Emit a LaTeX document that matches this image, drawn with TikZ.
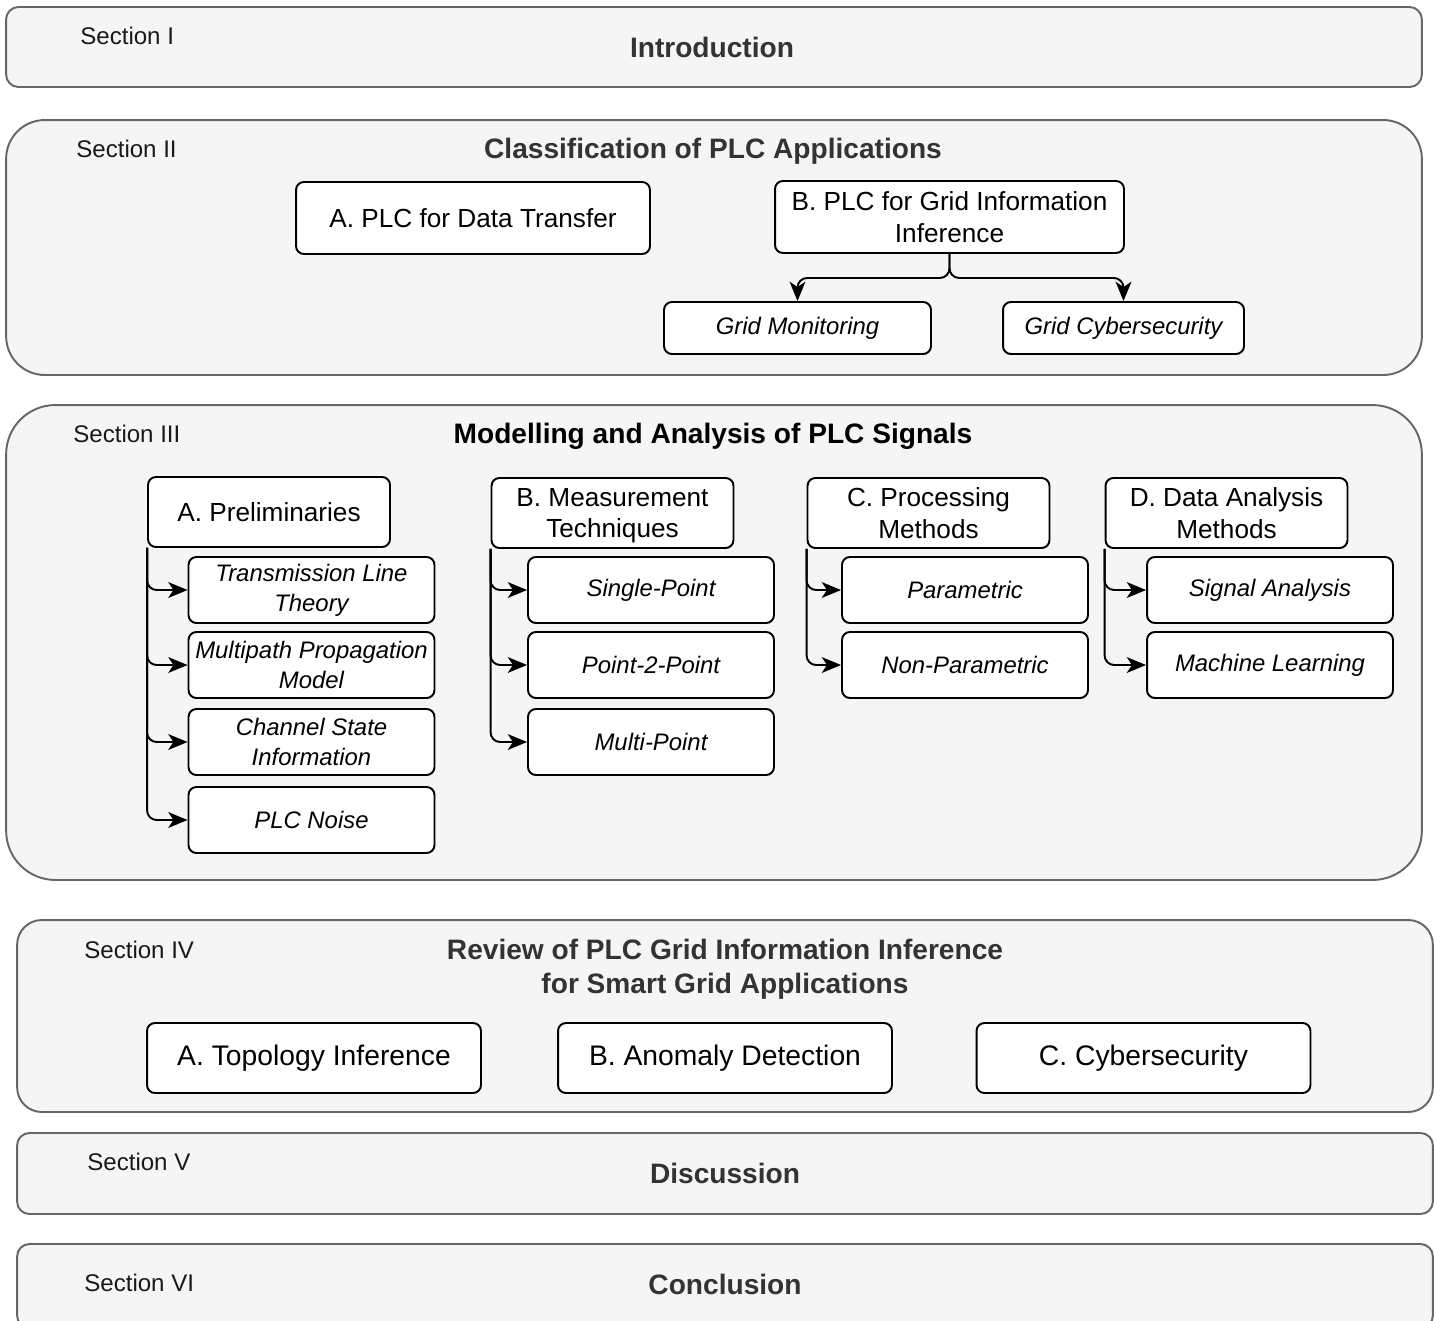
\documentclass[tikz,border=0pt]{standalone}
\usepackage{fontspec}
\setmainfont{Liberation Sans}
\usetikzlibrary{arrows.meta}

\definecolor{secfill}{HTML}{F5F5F5}
\definecolor{secline}{HTML}{666666}
\definecolor{titlegray}{HTML}{333333}

\begin{document}
\begin{tikzpicture}[x=0.02cm, y=-0.02cm,
    secbox/.style={draw=secline, fill=secfill, line width=1.1pt, minimum width=28.32cm},
    seclabel/.style={anchor=west, inner sep=0pt, text=black!90, font=\fontsize{13.7}{16}\selectfont},
    sectitle/.style={text=titlegray, align=center, font=\fontsize{16}{19.3}\selectfont\bfseries},
    box/.style={draw, fill=white, rounded corners=4.5pt, line width=1.1pt, align=center, inner sep=0pt, font=\fontsize{14.9}{18}\selectfont},
    subbox/.style={box, font=\fontsize{13.6}{17}\selectfont\itshape},
    link/.style={-{Stealth[length=11pt, width=9pt, inset=3pt]}, rounded corners=5.5pt, line width=1.1pt}]
    \useasboundingbox (0, 0) rectangle (1434, 1320);

    % section frames
    \node at (714, 47) [secbox, rounded corners=7pt, minimum height=1.6cm] (s1) {};
    \node at (714, 247.5) [secbox, rounded corners=22pt, minimum height=5.1cm] (s2) {};
    \node at (714, 642.5) [secbox, rounded corners=28pt, minimum height=9.5cm] (s3) {};
    \node at (725, 1016) [secbox, rounded corners=14pt, minimum height=3.84cm] (s4) {};
    \node at (725, 1173.5) [secbox, rounded corners=7pt, minimum height=1.62cm] (s5) {};
    \node at (725, 1286) [secbox, rounded corners=7pt, minimum height=1.68cm] (s6) {};

    \node at (80, 36) [seclabel] (l1) {Section I};
    \node at (76, 149) [seclabel] (l2) {Section II};
    \node at (73, 434) [seclabel] (l3) {Section III};
    \node at (84, 950) [seclabel] (l4) {Section IV};
    \node at (87, 1162) [seclabel] (l5) {Section V};
    \node at (84, 1283) [seclabel] (l6) {Section VI};

    \node at (712, 47) [sectitle] (t1) {Introduction};
    \node at (713, 151) [sectitle] (t2) {Classification of PLC Applications};
    \node at (713, 436) [sectitle, text=black] (t3) {Modelling and Analysis of PLC Signals};
    \node at (725, 969) [sectitle] (t4) {Review of PLC Grid Information Inference\\for Smart Grid Applications};
    \node at (725, 1173) [sectitle] (t5) {Discussion};
    \node at (725, 1284) [sectitle] (t6) {Conclusion};

    % section II
    \node at (473, 218) [box, minimum width=7.08cm, minimum height=1.44cm] (da) {A. PLC for Data Transfer};
    \node at (949.5, 217) [box, minimum width=6.98cm, minimum height=1.44cm] (gi) {B. PLC for Grid Information\\Inference};
    \node at (797.5, 328) [subbox, minimum width=5.34cm, minimum height=1.04cm] (gm) {Grid Monitoring};
    \node at (1123.5, 328) [subbox, minimum width=4.82cm, minimum height=1.04cm] (gc) {Grid Cybersecurity};

    \draw[link] (gi.south) -- ++(0, 24) -| (gm.north);
    \draw[link] (gi.south) -- ++(0, 24) -| (gc.north);

    % section III
    \tikzset{head/.style={box, minimum width=4.84cm, minimum height=1.4cm},
             item/.style={subbox, minimum width=4.92cm, minimum height=1.32cm}}
    \node at (269, 512) [head] (pre) {A. Preliminaries};
    \node at (311.5, 590) [item] (pre1) {Transmission Line\\Theory};
    \node at (311.5, 665) [item] (pre2) {Multipath Propagation\\Model};
    \node at (311.5, 742) [item] (pre3) {Channel State\\Information};
    \node at (311.5, 820) [item] (pre4) {PLC Noise};

    \node at (612.5, 513) [head, text depth=0pt] (mea) {B. Measurement\\Techniques};
    \node at (651, 590) [item] (mea1) {Single-Point};
    \node at (651, 665) [item] (mea2) {Point-2-Point};
    \node at (651, 742) [item] (mea3) {Multi-Point};

    \node at (928.5, 513) [head, text depth=0pt] (pro) {C. Processing\\Methods};
    \node at (965, 590) [item] (pro1) {Parametric};
    \node at (965, 665) [item] (pro2) {Non-Parametric};

    \node at (1226.5, 513) [head, text depth=0pt] (dat) {D. Data Analysis\\Methods};
    \node at (1270, 590) [item] (dat1) {Signal Analysis};
    \node at (1270, 665) [item] (dat2) {Machine Learning};

    \foreach \i in {1,...,4}
        \draw[link] (pre.south west) |- (pre\i.west);
    \foreach \i in {1,...,3}
        \draw[link] (mea.south west) |- (mea\i.west);
    \foreach \i in {1,2} {
        \draw[link] (pro.south west) |- (pro\i.west);
        \draw[link] (dat.south west) |- (dat\i.west);
    }

    % section IV
    \tikzset{topic/.style={box, minimum width=6.68cm, minimum height=1.4cm, font=\fontsize{16.1}{18}\selectfont}}
    \node at (314, 1058) [topic] (top) {A. Topology Inference};
    \node at (725, 1058) [topic] (ano) {B. Anomaly Detection};
    \node at (1143.5, 1058) [topic] (cyb) {C. Cybersecurity};

\end{tikzpicture}
\end{document}
